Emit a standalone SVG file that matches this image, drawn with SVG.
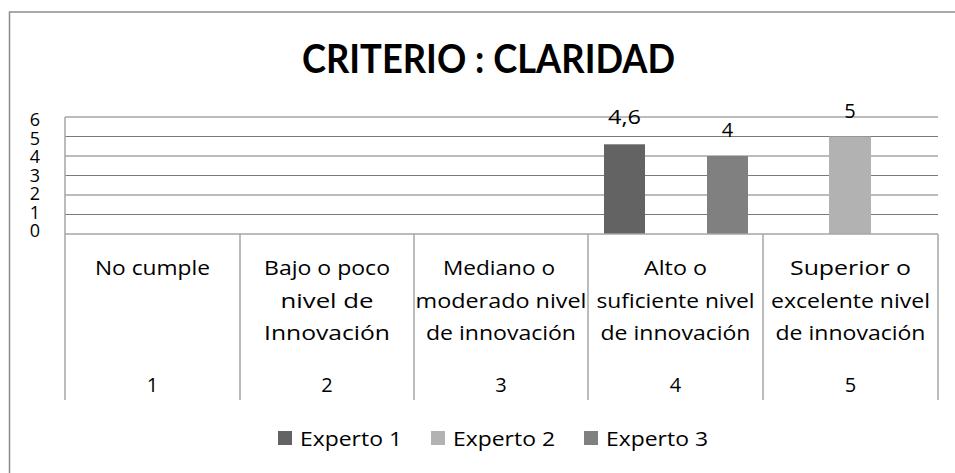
<svg xmlns="http://www.w3.org/2000/svg" width="955" height="473" viewBox="0 0 955 473">
<style>
text{font-family:"Open Sans",Lato,"Liberation Sans",sans-serif;fill:#000}
.t{font-family:Lato,"Open Sans",sans-serif;font-size:40px;font-weight:bold;text-anchor:middle}
.c{font-size:20px;text-anchor:middle}
.y{font-size:18px;text-anchor:end}
.v{font-size:20px;text-anchor:middle}
.l{font-size:20px}
.grid{stroke:#7a7a7a;stroke-width:1.2}
.ax{stroke:#a6a6a6;stroke-width:1.5;fill:none}
</style>
<rect x="9.5" y="12" width="960" height="480" fill="#fff" stroke="#8c8c8c" stroke-width="1.5"/>
<g id="title"><text class="t" x="488.5" y="73" textLength="373" lengthAdjust="spacingAndGlyphs">CRITERIO : CLARIDAD</text></g>
<g id="axes">
<line class="ax" x1="65" y1="117" x2="938" y2="117"/>
<line class="grid" x1="65" y1="136.5" x2="938" y2="136.5"/>
<line class="grid" x1="65" y1="156" x2="938" y2="156"/>
<line class="grid" x1="65" y1="175.5" x2="938" y2="175.5"/>
<line class="grid" x1="65" y1="195" x2="938" y2="195"/>
<line class="grid" x1="65" y1="214.5" x2="938" y2="214.5"/>
<line class="ax" x1="65" y1="117" x2="65" y2="400"/>
<line class="ax" x1="240" y1="234" x2="240" y2="400"/>
<line class="ax" x1="414" y1="234" x2="414" y2="400"/>
<line class="ax" x1="588" y1="234" x2="588" y2="400"/>
<line class="ax" x1="763" y1="234" x2="763" y2="400"/>
<line class="ax" x1="938" y1="234" x2="938" y2="400"/>
<text class="y" x="40" y="126">6</text>
<text class="y" x="40" y="144.5">5</text>
<text class="y" x="40" y="163">4</text>
<text class="y" x="40" y="181.5">3</text>
<text class="y" x="40" y="200">2</text>
<text class="y" x="40" y="218.5">1</text>
<text class="y" x="40" y="237">0</text>
</g>
<g id="bars">
<rect x="604" y="144.3" width="41" height="89.7" fill="#636363"/>
<rect x="707" y="156" width="41" height="78" fill="#808080"/>
<rect x="829" y="136.5" width="42" height="97.5" fill="#b2b2b2"/>
<line class="ax" x1="65" y1="234" x2="938" y2="234"/>
<text class="v" x="624.5" y="124" textLength="33" lengthAdjust="spacingAndGlyphs">4,6</text>
<text class="v" x="727.5" y="137">4</text>
<text class="v" x="850" y="118">5</text>
</g>
<g id="categories">
<text class="c" x="152.5" y="275" textLength="115" lengthAdjust="spacingAndGlyphs">No cumple</text>
<text class="c" x="327" y="275" textLength="126" lengthAdjust="spacingAndGlyphs">Bajo o poco</text>
<text class="c" x="327" y="307.5" textLength="93" lengthAdjust="spacingAndGlyphs">nivel de</text>
<text class="c" x="327" y="340" textLength="126" lengthAdjust="spacingAndGlyphs">Innovación</text>
<text class="c" x="499" y="275" textLength="112" lengthAdjust="spacingAndGlyphs">Mediano o</text>
<text class="c" x="501" y="307.5" textLength="171" lengthAdjust="spacingAndGlyphs">moderado nivel</text>
<text class="c" x="501" y="340" textLength="150" lengthAdjust="spacingAndGlyphs">de innovación</text>
<text class="c" x="675.5" y="275" textLength="63" lengthAdjust="spacingAndGlyphs">Alto o</text>
<text class="c" x="675.5" y="307.5" textLength="158" lengthAdjust="spacingAndGlyphs">suficiente nivel</text>
<text class="c" x="675.5" y="340" textLength="150" lengthAdjust="spacingAndGlyphs">de innovación</text>
<text class="c" x="850.5" y="275" textLength="121" lengthAdjust="spacingAndGlyphs">Superior o</text>
<text class="c" x="850.5" y="307.5" textLength="159" lengthAdjust="spacingAndGlyphs">excelente nivel</text>
<text class="c" x="850.5" y="340" textLength="150" lengthAdjust="spacingAndGlyphs">de innovación</text>
<text class="c" x="152.5" y="392">1</text>
<text class="c" x="327" y="392">2</text>
<text class="c" x="501" y="392">3</text>
<text class="c" x="675.5" y="392">4</text>
<text class="c" x="850.5" y="392">5</text>
</g>
<g id="legend">
<rect x="278" y="431" width="14" height="14" fill="#636363"/>
<text class="l" x="300" y="446" textLength="102" lengthAdjust="spacingAndGlyphs">Experto 1</text>
<rect x="431" y="431" width="14" height="14" fill="#b2b2b2"/>
<text class="l" x="453" y="446" textLength="102" lengthAdjust="spacingAndGlyphs">Experto 2</text>
<rect x="584" y="431" width="14" height="14" fill="#808080"/>
<text class="l" x="606" y="446" textLength="102" lengthAdjust="spacingAndGlyphs">Experto 3</text>
</g>
</svg>
